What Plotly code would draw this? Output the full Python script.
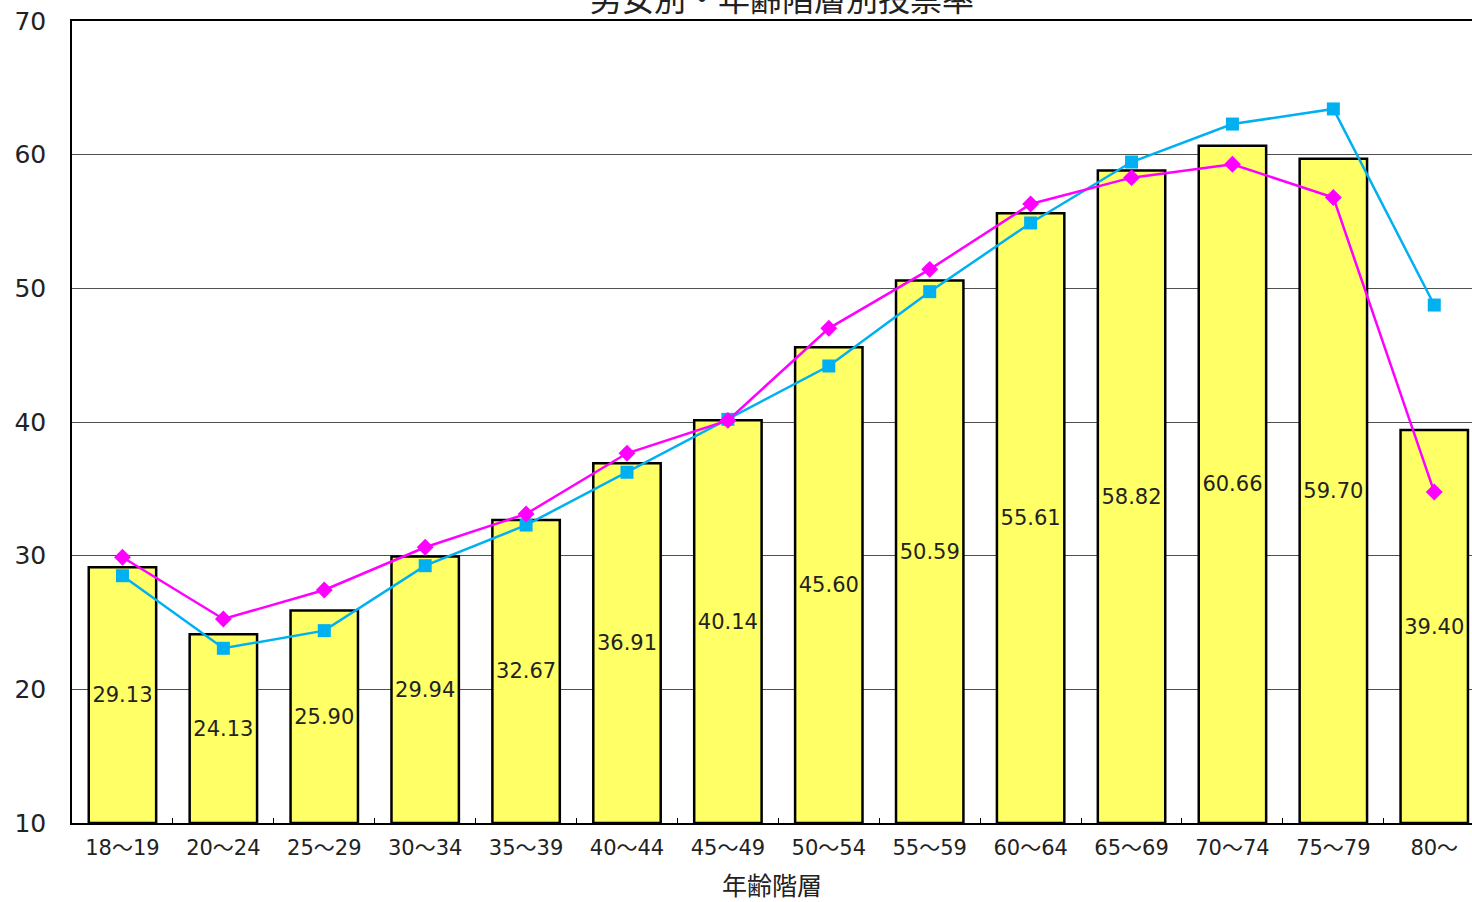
import plotly.graph_objects as go

categories = ["18～19", "20～24", "25～29", "30～34", "35～39", "40～44", "45～49",
              "50～54", "55～59", "60～64", "65～69", "70～74", "75～79", "80～"]
total = [29.13, 24.13, 25.90, 29.94, 32.67, 36.91, 40.14, 45.60, 50.59, 55.61,
         58.82, 60.66, 59.70, 39.40]
male = [28.50, 23.07, 24.39, 29.25, 32.29, 36.24, 40.20, 44.19, 49.75, 54.89,
        59.45, 62.29, 63.42, 48.75]
female = [29.88, 25.26, 27.43, 30.63, 33.12, 37.66, 40.12, 47.01, 51.42, 56.31,
          58.28, 59.28, 56.80, 34.76]

y_min, y_max = 10, 70
FONT = "DejaVu Sans, Noto Sans CJK JP"
TXT = "#222222"

fig = go.Figure()
fig.add_trace(go.Bar(
    x=categories, y=[v - y_min for v in total], base=y_min,
    width=0.668,
    marker=dict(color="#FFFF66", line=dict(color="black", width=2.5)),
    text=[f"{v:.2f}" for v in total],
    textposition="inside", insidetextanchor="middle", constraintext="none",
    textangle=0,
    textfont=dict(family=FONT, size=21, color=TXT),
    hoverinfo="skip",
))
fig.add_trace(go.Scatter(
    x=categories, y=male, mode="lines+markers",
    line=dict(color="#00B0F0", width=2.5),
    marker=dict(symbol="square", size=13, color="#00B0F0"),
    hoverinfo="skip",
))
fig.add_trace(go.Scatter(
    x=categories, y=female, mode="lines+markers",
    line=dict(color="#FF00FF", width=2.5),
    marker=dict(symbol="diamond", size=13, color="#FF00FF"),
    hoverinfo="skip",
))

fig.update_layout(
    width=1472, height=902,
    margin=dict(l=72, r=0, t=21, b=79),
    plot_bgcolor="white", paper_bgcolor="white",
    showlegend=False,
    hovermode=False,
    font=dict(family=FONT, color=TXT),
    title=dict(text="男女別・年齢階層別投票率", x=782 / 1472, xanchor="center",
               y=1.0, yanchor="middle",
               font=dict(family="Noto Sans CJK JP", size=32, color=TXT)),
)
fig.update_xaxes(
    range=[-0.5, 13.374], showline=True, linecolor="black", linewidth=1.5,
    mirror=True, ticks="inside", ticklen=5, tickcolor="black", tickson="boundaries",
    ticklabelstandoff=5,
    tickfont=dict(family=FONT, size=21, color=TXT),
    title=dict(text="年齢階層", font=dict(family="Noto Sans CJK JP", size=25, color=TXT),
               standoff=20),
    showgrid=False,
)
fig.update_yaxes(
    range=[y_min, y_max], dtick=10, showline=True, linecolor="black", linewidth=1.5,
    showgrid=True, gridcolor="#505050", gridwidth=1,
    ticks="", ticklabelstandoff=19,
    tickfont=dict(family=FONT, size=25, color=TXT),
    zeroline=False,
)

fig.write_html(
    "out.html",
    config={"displayModeBar": False},
    post_script="document.body.style.margin='0';document.body.style.overflow='hidden';",
)
